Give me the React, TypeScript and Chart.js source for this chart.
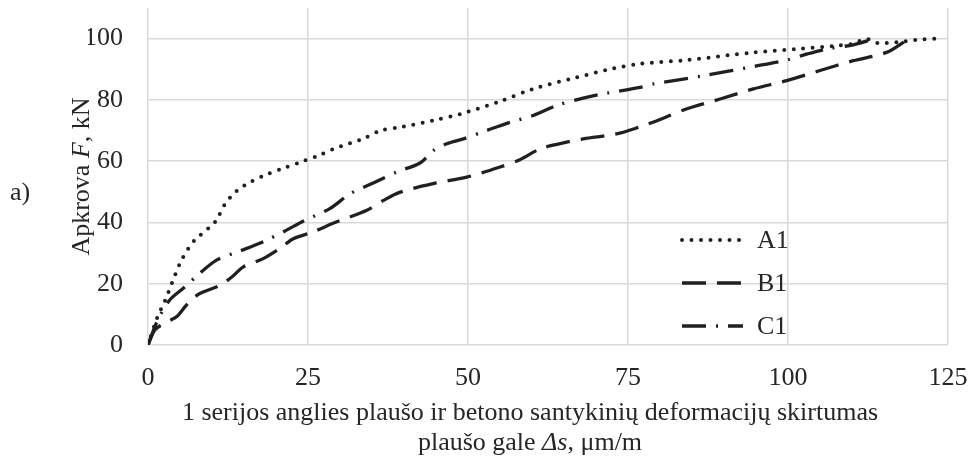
import React, { useEffect, useRef } from "react";
import { Chart, registerables } from "chart.js";

Chart.register(...registerables);

const A1_X = [0, 1.4, 2.7, 3.7, 5, 6.3, 7.3, 9.5, 10.6, 12, 13, 14, 15.3, 18, 20.9, 23.7, 26.4, 29, 33.6, 36.3, 39.4, 44.6, 49.3, 55, 60.2, 66.5, 72.4, 77, 84.2, 94.6, 101.4, 107.6, 110, 112.3, 114, 117, 120, 123.2];
const A1_Y = [0, 8.7, 14.7, 20, 26.7, 31.5, 34.2, 38.2, 40.5, 45.9, 48.5, 50.5, 52.4, 55.2, 57.5, 59.6, 61.6, 64, 67.3, 70, 71.1, 73.3, 75.7, 79.5, 83.6, 87.1, 90.1, 91.8, 93, 95.5, 96.6, 97.7, 98.3, 99.9, 98.6, 98.8, 99.6, 100];

const B1_X = [0, 1.1, 3, 4.6, 5.8, 6.8, 8.1, 11.25, 13.1, 14.9, 18, 20.6, 22.7, 25.8, 29, 34.2, 36.8, 39.4, 44.6, 49.8, 55, 58.1, 61.25, 63.9, 68, 73.2, 77, 79, 84.2, 89.4, 94.6, 99.8, 105, 110.2, 115.4, 118, 118.8];
const B1_Y = [0, 5, 7.5, 9.5, 12.5, 14.8, 16.8, 19.5, 22.2, 25.5, 28.2, 31.5, 34.7, 36.9, 39.8, 44, 47.2, 49.9, 52.7, 54.8, 58.1, 60.5, 64, 65.5, 67.3, 68.9, 71.3, 72.8, 77.1, 80.3, 83.6, 86.3, 89.6, 92.8, 95.5, 98.8, 100];

const C1_X = [0, 1.5, 3.4, 5.8, 7.6, 10.7, 14.4, 18, 21.4, 24.3, 28.4, 31.6, 35.2, 38.9, 42.5, 44.6, 46.7, 49.3, 52.9, 56.6, 60.2, 63.9, 68, 71.7, 76.9, 79, 86.8, 94.6, 99.8, 103, 106, 110.2, 113.4];
const C1_Y = [0, 8, 14.7, 19, 22.5, 27.7, 30.7, 33.7, 37.2, 40.5, 44.5, 49.4, 52.9, 56.5, 59.4, 63.5, 65.7, 67.3, 70, 72.7, 74.9, 78.2, 80.6, 82.2, 84.1, 85.2, 87.9, 90.9, 93, 95, 96.6, 98, 99.9];

const SERIES_LABELS = ["A1", "B1", "C1"];
const X_TICK_STEP = 25;
const Y_TICK_STEP = 20;
const Y_TICK_MAX = 100;

const FONT = '"Liberation Serif", "Times New Roman", serif';
const INK = "#231f20";
const TEXT = "#262626";
const GRID = "#d9d9d9";
const FS = 26;

const DASHES = [[0, 9.5], [24, 11], [24, 10, 2, 10]];
const CAPS: CanvasLineCap[] = ["round", "butt", "butt"];

function pts(xs: number[], ys: number[]) {
  return xs.map((x, i) => ({ x, y: ys[i] }));
}

function drawMixed(ctx: CanvasRenderingContext2D, parts: [string, boolean][], cx: number, cy: number) {
  let total = 0;
  const widths = parts.map(([t, it]) => {
    ctx.font = `${it ? "italic " : ""}${FS}px ${FONT}`;
    const w = ctx.measureText(t).width;
    total += w;
    return w;
  });
  let x = cx - total / 2;
  parts.forEach(([t, it], i) => {
    ctx.font = `${it ? "italic " : ""}${FS}px ${FONT}`;
    ctx.fillText(t, x, cy);
    x += widths[i];
  });
}

const annotations = {
  id: "annotations",
  afterDraw(chart: any) {
    const ctx: CanvasRenderingContext2D = chart.ctx;
    const area = chart.chartArea;
    ctx.save();
    ctx.fillStyle = TEXT;
    ctx.textAlign = "left";
    ctx.textBaseline = "middle";
    // x title
    drawMixed(ctx, [["1 serijos anglies plaušo ir betono santykinių deformacijų skirtumas", false]], 530, 413);
    drawMixed(ctx, [["plaušo gale ", false], ["Δs", true], [", μm/m", false]], 530, 443);
    // y title
    ctx.save();
    ctx.translate(82, (area.top + area.bottom) / 2);
    ctx.rotate(-Math.PI / 2);
    drawMixed(ctx, [["Apkrova ", false], ["F", true], [", kN", false]], 0, 0);
    ctx.restore();
    // a)
    ctx.font = `${FS}px ${FONT}`;
    ctx.textAlign = "center";
    ctx.fillText("a)", 20, 193);
    // legend
    const lx0 = 682, lx1 = 743, ly0 = 240, dy = 43;
    chart.data.datasets.forEach((ds: any, i: number) => {
      const y = ly0 + i * dy;
      ctx.beginPath();
      ctx.strokeStyle = INK;
      ctx.lineWidth = i === 0 ? 4 : 3.3;
      ctx.lineCap = CAPS[i];
      ctx.setLineDash(DASHES[i]);
      ctx.moveTo(lx0, y);
      ctx.lineTo(lx1, y);
      ctx.stroke();
      ctx.setLineDash([]);
      ctx.font = `${FS}px ${FONT}`;
      ctx.textAlign = "left";
      ctx.fillStyle = TEXT;
      ctx.fillText(ds.label, 757, y + 1);
    });
    ctx.restore();
  },
};

export default function App() {
  const ref = useRef<HTMLCanvasElement>(null);
  useEffect(() => {
    const series = [pts(A1_X, A1_Y), pts(B1_X, B1_Y), pts(C1_X, C1_Y)];
    const chart = new Chart(ref.current!, {
      type: "line",
      data: {
        datasets: series.map((d, i) => ({
          label: SERIES_LABELS[i],
          data: d,
          borderColor: INK,
          borderWidth: i === 0 ? 4 : 3.3,
          borderDash: DASHES[i],
          borderCapStyle: CAPS[i],
          pointRadius: 0,
          tension: 0.3,
          fill: false,
        })),
      },
      options: {
        animation: false,
        responsive: false,
        maintainAspectRatio: false,
        layout: { padding: { left: 88, right: 24, top: 8, bottom: 75 } },
        plugins: { legend: { display: false }, tooltip: { enabled: false } },
        scales: {
          x: {
            type: "linear",
            min: 0,
            max: 125,
            ticks: { stepSize: X_TICK_STEP, padding: 18, color: TEXT, font: { family: FONT, size: FS } },
            grid: { color: GRID, lineWidth: 1.5, drawTicks: false },
            border: { display: false },
            afterFit: (s: any) => {
              s.height = 40;
              s.paddingLeft = 0;
              s.paddingRight = 0;
            },
          },
          y: {
            min: 0,
            max: 110,
            ticks: { stepSize: Y_TICK_STEP, padding: 25, color: TEXT, font: { family: FONT, size: FS } },
            grid: { color: GRID, lineWidth: 1.5, drawTicks: false },
            border: { display: false },
            afterBuildTicks: (s: any) => {
              s.ticks = s.ticks.filter((t: any) => t.value <= Y_TICK_MAX);
            },
            afterFit: (s: any) => {
              s.width = 60;
              s.paddingTop = 0;
              s.paddingBottom = 0;
            },
          },
        },
      },
      plugins: [annotations],
    });
    return () => chart.destroy();
  }, []);
  return (
    <div style={{ position: "fixed", left: 0, top: 0, width: 972, height: 460, background: "#fff" }}>
      <canvas ref={ref} width={972} height={460} style={{ width: 972, height: 460, display: "block" }} />
    </div>
  );
}
